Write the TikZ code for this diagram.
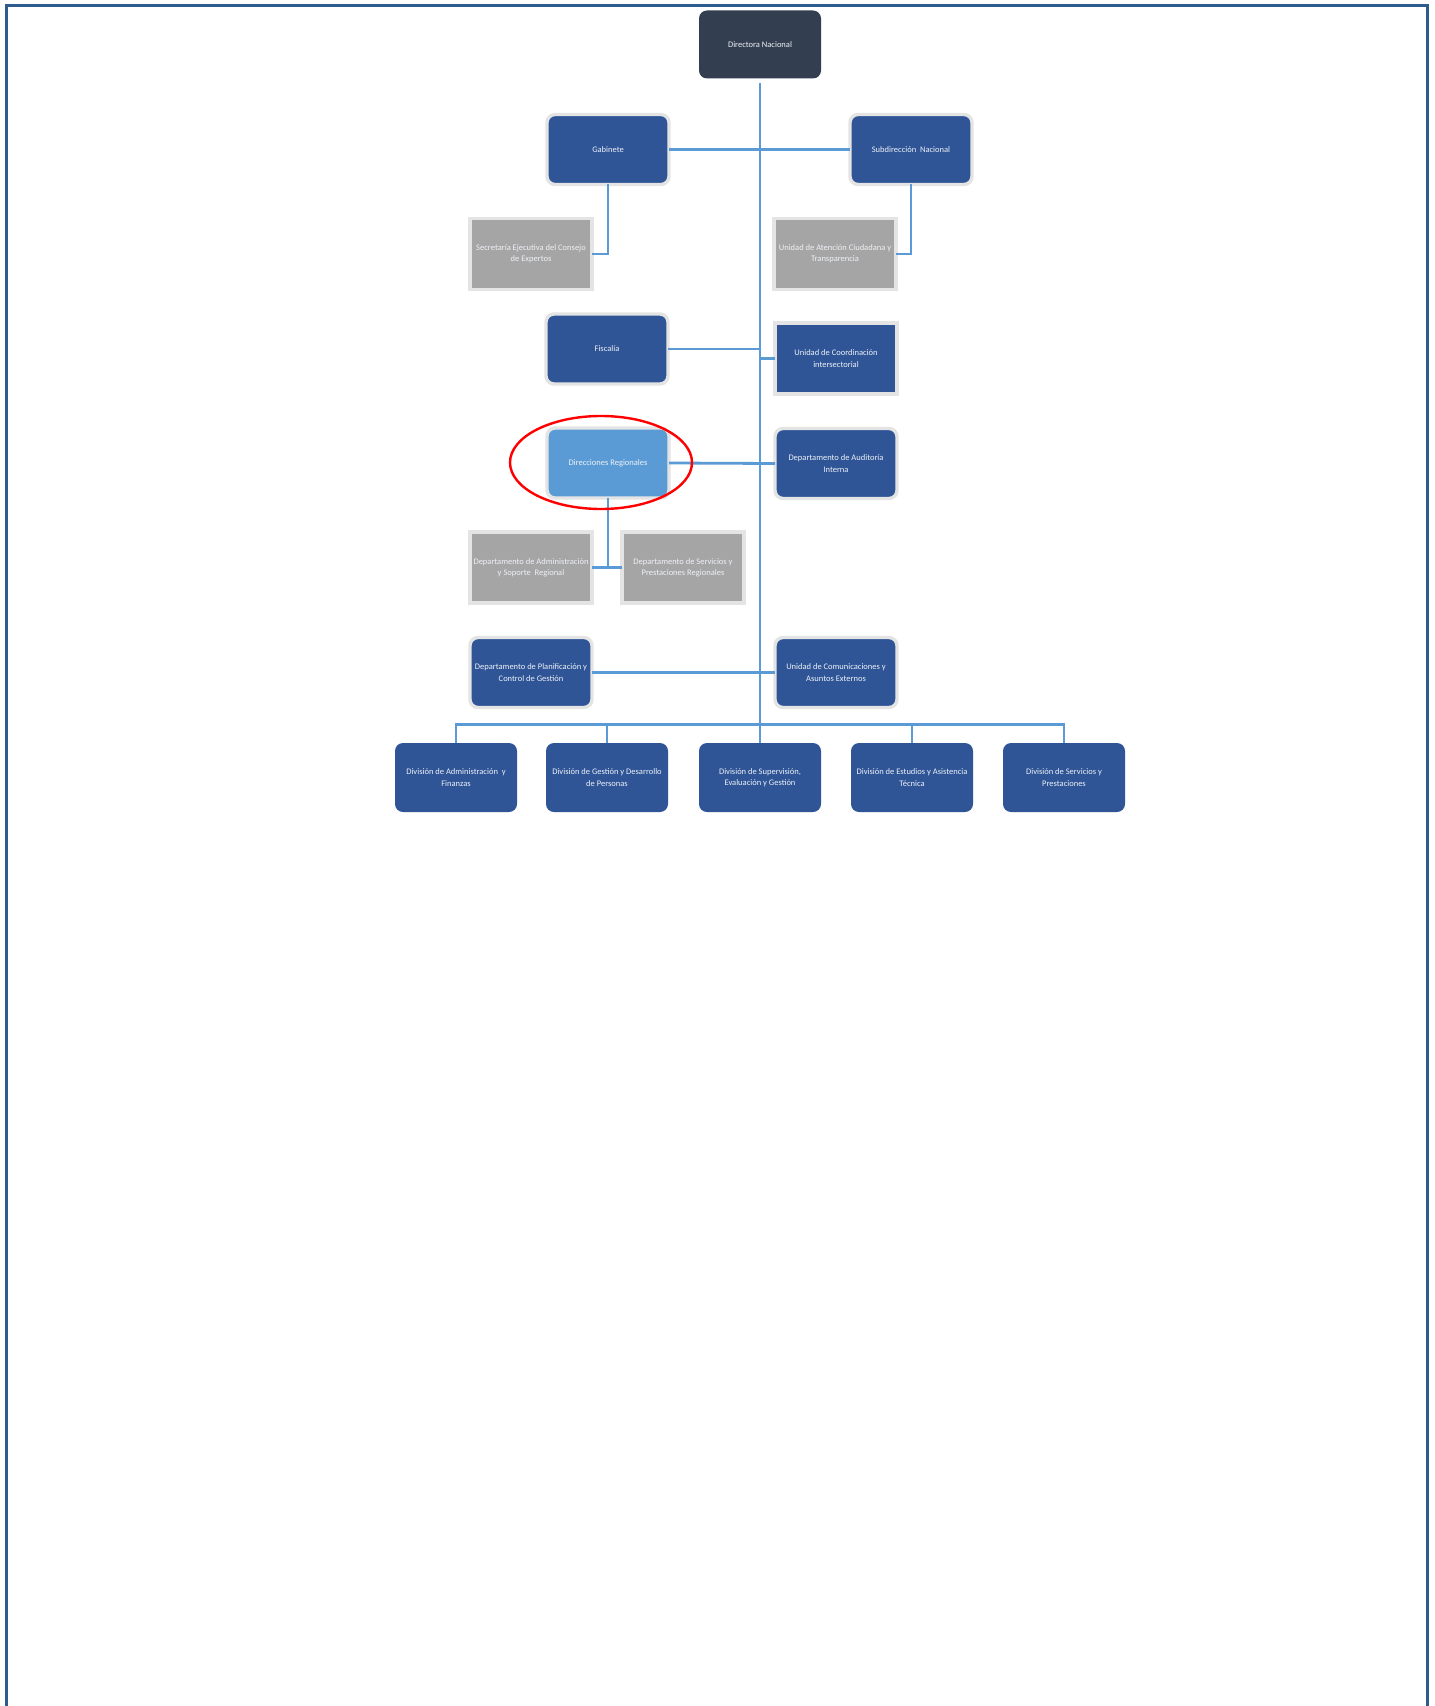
\documentclass[tikz,border=0pt]{standalone}
\usepackage{fontspec}
\setmainfont{Carlito}
\definecolor{darkbox}{HTML}{333F50}
\definecolor{bluebox}{HTML}{2F5597}
\definecolor{lightbox}{HTML}{5B9BD5}
\definecolor{graybox}{HTML}{A5A5A5}
\definecolor{outl}{HTML}{E4E4E4}
\definecolor{conn}{HTML}{5B9BD5}
\definecolor{frame}{HTML}{2F5C8F}
\definecolor{txt}{HTML}{EEF1F7}
\begin{document}
\begin{tikzpicture}[x=0.5pt,y=-0.5pt,
  base/.style={text=txt, font=\fontsize{4.25pt}{5.6pt}\selectfont, align=center,
    inner sep=0pt, minimum width=61pt, minimum height=35pt, outer sep=0pt},
  topbox/.style={base, fill=darkbox, rounded corners=4pt},
  bbox/.style={base, fill=bluebox, rounded corners=4pt, draw=outl, line width=1.7pt},
  plainbox/.style={base, fill=bluebox, rounded corners=4pt, minimum height=34.5pt},
  lbox/.style={base, fill=lightbox, rounded corners=4pt, draw=outl, line width=1.7pt},
  gbox/.style={base, fill=graybox, draw=outl, line width=1.7pt, minimum height=35.5pt},
  sqbox/.style={base, fill=bluebox, draw=outl, line width=1.7pt, minimum height=35.5pt},
  link/.style={draw=conn, line width=1.4pt}]
\useasboundingbox (0,0) rectangle (1434,1706);
\fill[white] (0,0) rectangle (1434,1706);
\draw[frame, line width=1.6pt] (6.5,1710) -- (6.5,5.5) -- (1427.5,5.5) -- (1427.5,1710);

\node[topbox, minimum height=34pt] (dir) at (760,44.5) {Directora Nacional};
\node[bbox] (gab) at (608,149.5) {Gabinete};
\node[bbox] (sub) at (911,149.5) {Subdirección\ \ Nacional};
\node[gbox] (sec) at (531,254) {Secretaría Ejecutiva del Consejo\\de Expertos};
\node[gbox] (uac) at (835,254) {Unidad de Atención Ciudadana y\\Transparencia};
\node[bbox] (fis) at (607,349) {Fiscalía};
\node[sqbox] (coo) at (836,358.5) {Unidad de Coordinación\\intersectorial};
\node[lbox] (dr) at (608,463) {Direcciones Regionales};
\node[bbox] (aud) at (836,463.5) {Departamento de Auditoría\\Interna};
\node[gbox] (das) at (531,567.5) {Departamento de Administración\\y Soporte\ \ Regional};
\node[gbox] (dsp) at (683,567.5) {Departamento de Servicios y\\Prestaciones Regionales};
\node[bbox] (pla) at (531,672.5) {Departamento de Planificación y\\Control de Gestión};
\node[bbox] (com) at (836,672.5) {Unidad de Comunicaciones y\\Asuntos Externos};

\node[plainbox] (d1) at (456,777.5) {División de Administración\ \ y\\Finanzas};
\node[plainbox] (d2) at (607,777.5) {División de Gestión y Desarrollo\\de Personas};
\node[plainbox] (d3) at (760,777.5) {División de Supervisión,\\Evaluación y Gestión};
\node[plainbox] (d4) at (912,777.5) {División de Estudios y Asistencia\\Técnica};
\node[plainbox] (d5) at (1064,777.5) {División de Servicios y\\Prestaciones};

\coordinate (tk) at (760,83);
\coordinate (bus) at (760,724.5);

% trunk
\draw[link] (tk) -- (d3.north);
\draw[link] (gab.east) -- (sub.west);
\draw[link] (gab.south) |- (sec.east);
\draw[link] (sub.south) |- (uac.east);
\draw[link] (fis.east) -- (fis.east -| tk);
\draw[link] (coo.west) -- (coo.west -| tk);
\draw[link] (dr.east) -- (aud.west);
\draw[link] (dr.south) -- (dr.south |- das.east);
\draw[link] (das.east) -- (dsp.west);
\draw[link] (pla.east) -- (com.west);
% bus
\draw[link] (d1.north) |- (bus) -| (d5.north);
\draw[link] (d2.north) -- (d2.north |- bus);
\draw[link] (d4.north) -- (d4.north |- bus);

% highlight
\draw[red, line width=1.2pt] (601,462.5) ellipse [x radius=91, y radius=46.5];
\end{tikzpicture}
\end{document}
